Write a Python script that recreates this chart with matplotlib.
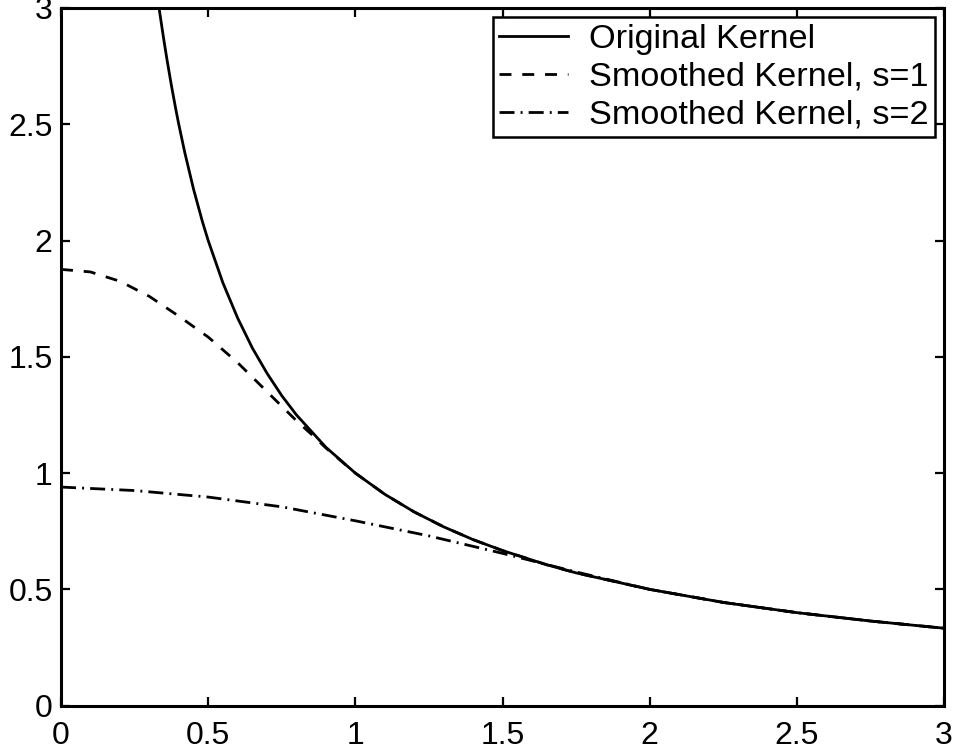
import matplotlib
matplotlib.use('Agg')
import matplotlib.pyplot as plt

# values
x_orig = [0.333, 0.34, 0.35, 0.36, 0.375, 0.39, 0.4, 0.42, 0.45, 0.48, 0.5, 0.55, 0.6, 0.65,
          0.7, 0.75, 0.8, 0.9, 1.0, 1.1, 1.2, 1.3, 1.4, 1.5, 1.65, 1.75, 2.0, 2.25, 2.5, 2.75, 3.0]
y_orig = [3.0, 2.941, 2.857, 2.778, 2.667, 2.564, 2.5, 2.381, 2.222, 2.083, 2.0, 1.818, 1.667, 1.538,
          1.429, 1.333, 1.25, 1.111, 1.0, 0.909, 0.833, 0.769, 0.714, 0.667, 0.606, 0.571, 0.5, 0.444, 0.4, 0.364, 0.333]

x_s1 = [0.0, 0.1, 0.2, 0.3, 0.4, 0.5, 0.6, 0.7, 0.8, 0.85, 0.9, 1.0, 1.1, 1.2, 1.3, 1.4, 1.5,
        1.65, 1.75, 2.0, 2.25, 2.5, 2.75, 3.0]
y_s1 = [1.876, 1.865, 1.825, 1.76, 1.675, 1.585, 1.475, 1.35, 1.225, 1.168, 1.108, 1.0, 0.909, 0.833,
        0.769, 0.714, 0.667, 0.606, 0.571, 0.5, 0.444, 0.4, 0.364, 0.333]

x_s2 = [0.0, 0.25, 0.5, 0.75, 1.0, 1.25, 1.5, 1.75, 2.0, 2.25, 2.5, 2.75, 3.0]
y_s2 = [0.94, 0.925, 0.897, 0.855, 0.795, 0.73, 0.655, 0.575, 0.5, 0.444, 0.4, 0.364, 0.333]

ticks = [0, 0.5, 1, 1.5, 2, 2.5, 3]
tick_labels = ['0', '0.5', '1', '1.5', '2', '2.5', '3']
labels = ['Original Kernel', 'Smoothed Kernel, s=1', 'Smoothed Kernel, s=2']

plt.rcParams['font.family'] = ['Liberation Sans', 'DejaVu Sans']

fig = plt.figure(figsize=(9.55, 7.52), dpi=100)
ax = fig.add_axes([0.0639, 0.0616, 0.9246, 0.9278])

lw = 2.0
ax.plot(x_orig, y_orig, color='black', linewidth=lw, linestyle='-', label=labels[0])
ax.plot(x_s1, y_s1, color='black', linewidth=lw, linestyle=(0, (4.3, 3.9)), label=labels[1])
ax.plot(x_s2, y_s2, color='black', linewidth=lw, linestyle=(0, (5.4, 2.2, 0.7, 2.2)), label=labels[2])

ax.set_xlim(0, 3)
ax.set_ylim(0, 3)
ax.set_xticks(ticks)
ax.set_yticks(ticks)
ax.set_xticklabels(tick_labels)
ax.set_yticklabels(tick_labels)
ax.tick_params(direction='in', length=6.7, width=1.6, top=True, right=True, labelsize=23)
ax.tick_params(axis='x', pad=11)
ax.tick_params(axis='y', pad=6)
for sp in ax.spines.values():
    sp.set_linewidth(2.2)

leg = ax.legend(loc='upper right', fontsize=24.7, fancybox=False, edgecolor='black',
                framealpha=1, borderaxespad=0.26, handlelength=2.0, handletextpad=0.6,
                labelspacing=0.2, borderpad=0.2)
leg.get_frame().set_linewidth(1.8)

fig.savefig('out.png', dpi=100)
